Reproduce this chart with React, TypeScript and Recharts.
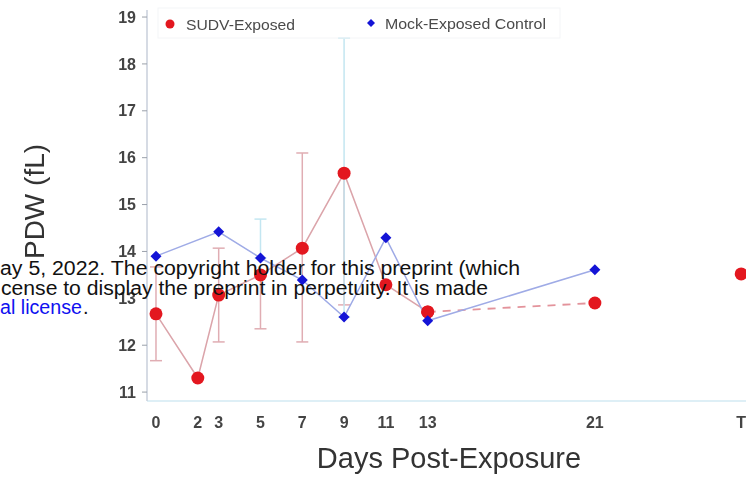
import { LineChart, Line, XAxis, YAxis, ErrorBar } from "recharts";

// sampling days; the terminal sample ("T") sits at day 28 on the axis
const days = [0, 2, 3, 5, 7, 9, 11, 13, 21, 28];
const dayLabels = ["0", "2", "3", "5", "7", "9", "11", "13", "21", "T"];
const yTicks = [11, 12, 13, 14, 15, 16, 17, 18, 19];

// PDW (fL), group means
const sudvMean = [12.67, 11.3, 13.07, 13.5, 14.07, 15.67, 13.29, 12.71, 12.9, 13.52];
const mockMean = [13.9, null, 14.42, 13.86, 13.39, 12.6, 14.29, 12.52, 13.61, null];

// [below, above] error deltas
const sudvErr = [[1.0, 1.0], null, [1.0, 1.0], [1.15, 0], [2.0, 2.03], [2.81, 0], null, null, null, null];
const mockErr = [null, null, null, [0, 0.83], null, [0, 5.95], null, null, null, null];

const FONT = "'Liberation Sans', Arial, Helvetica, sans-serif";
const RED = "#e3171f";
const BLUE = "#1414d6";

const data = days.map((day, i) => ({
  day,
  sudv: day <= 13 ? sudvMean[i] : null,
  sudvLate: day >= 13 && day <= 21 ? sudvMean[i] : null,
  sudvEnd: day > 21 ? sudvMean[i] : null,
  sudvErr: sudvErr[i],
  mock: mockMean[i],
  mockErr: mockErr[i],
}));

const redDot = (props: any) => {
  const { cx, cy, index, dataKey } = props;
  if (cx == null || cy == null || props.value == null) return <g key={`${dataKey}-${index}`} />;
  return <circle key={`${dataKey}-${index}`} cx={cx} cy={cy} r={6.5} fill={RED} />;
};

const blueDot = (props: any) => {
  const { cx, cy, index } = props;
  if (cx == null || cy == null || props.value == null) return <g key={`mock-${index}`} />;
  const s = 5.5;
  return (
    <polygon
      key={`mock-${index}`}
      points={`${cx},${cy - s} ${cx + s},${cy} ${cx},${cy + s} ${cx - s},${cy}`}
      fill={BLUE}
    />
  );
};

const tickStyle = { fontSize: 16, fill: "#444", fontWeight: "bold", fontFamily: FONT };

export default function App() {
  return (
    <div
      style={{
        position: "absolute",
        left: 0,
        top: 0,
        width: 746,
        height: 493,
        overflow: "hidden",
        background: "#fff",
      }}
    >
      <div style={{ position: "absolute", left: 0, top: 0, filter: "blur(0.5px)" }}>
        <LineChart
          width={751}
          height={493}
          data={data}
          margin={{ top: 10, right: 0, bottom: 0, left: 0 }}
        >
          <XAxis
            type="number"
            dataKey="day"
            domain={[-0.43, 28.47]}
            ticks={days}
            allowDataOverflow
            tickFormatter={(v: number) => dayLabels[days.indexOf(v)] ?? String(v)}
            height={92}
            axisLine={{ stroke: "#d3eaf3", strokeWidth: 1.5 }}
            tickLine={false}
            tickMargin={10}
            tick={tickStyle}
            label={{
              value: "Days Post-Exposure",
              position: "insideBottom",
              offset: 25,
              fontSize: 29,
              fill: "#333",
              fontFamily: FONT,
            }}
          />
          <YAxis
            type="number"
            domain={[10.81, 19.15]}
            ticks={yTicks}
            allowDataOverflow
            width={147}
            axisLine={{ stroke: "#c8cfdb", strokeWidth: 1.5 }}
            tickLine={{ stroke: "#9aa0aa" }}
            tickSize={5}
            tickMargin={6}
            tick={tickStyle}
            label={{
              value: "PDW (fL)",
              angle: -90,
              position: "insideLeft",
              offset: 34,
              dy: -4,
              fontSize: 28,
              fill: "#333",
              fontFamily: FONT,
              style: { textAnchor: "middle" },
            }}
          />
          <Line
            dataKey="sudv"
            stroke="#dba4aa"
            strokeWidth={1.5}
            dot={redDot}
            activeDot={false}
            isAnimationActive={false}
          >
            <ErrorBar dataKey="sudvErr" direction="y" width={6} stroke="#e0adb3" strokeWidth={1.5} />
          </Line>
          <Line
            dataKey="sudvLate"
            stroke="#e3939b"
            strokeWidth={1.8}
            strokeDasharray="8 7"
            dot={redDot}
            activeDot={false}
            isAnimationActive={false}
          />
          <Line
            dataKey="sudvEnd"
            stroke="none"
            dot={redDot}
            activeDot={false}
            isAnimationActive={false}
          />
          <Line
            dataKey="mock"
            stroke="#9fabe6"
            strokeWidth={1.5}
            connectNulls
            dot={blueDot}
            activeDot={false}
            isAnimationActive={false}
          >
            <ErrorBar dataKey="mockErr" direction="y" width={6} stroke="#c3e6f1" strokeWidth={1.5} />
          </Line>
        </LineChart>

        {/* legend */}
        <svg
          width={746}
          height={50}
          style={{ position: "absolute", left: 0, top: 0, pointerEvents: "none" }}
        >
          <rect x={158} y={8} width={402} height={30} fill="none" stroke="#f4f5f7" />
          <circle cx={170} cy={24} r={4.5} fill={RED} />
          <text x={186} y={30} fontSize={15} fill="#4a4a4a" fontFamily={FONT} textLength={109} lengthAdjust="spacingAndGlyphs">
            SUDV-Exposed
          </text>
          <polygon points="371,19 375,23 371,27 367,23" fill={BLUE} />
          <text x={385} y={29} fontSize={15} fill="#4a4a4a" fontFamily={FONT} textLength={161} lengthAdjust="spacingAndGlyphs">
            Mock-Exposed Control
          </text>
        </svg>
      </div>

      {/* preprint notice printed across the figure */}
      <svg
        width={746}
        height={493}
        style={{ position: "absolute", left: 0, top: 0, pointerEvents: "none" }}
      >
        <text x={0} y={275} fontSize={20} fill="#111" fontFamily={FONT} textLength={520} lengthAdjust="spacingAndGlyphs">
          ay 5, 2022. The copyright holder for this preprint (which
        </text>
        <text x={1} y={295} fontSize={20} fill="#111" fontFamily={FONT} textLength={487} lengthAdjust="spacingAndGlyphs">
          cense to display the preprint in perpetuity. It is made
        </text>
        <text x={0} y={314} fontSize={20} fill="#1010f0" fontFamily={FONT} textLength={82} lengthAdjust="spacingAndGlyphs">
          al license
        </text>
        <text x={83} y={314} fontSize={20} fill="#111" fontFamily={FONT}>
          .
        </text>
      </svg>
    </div>
  );
}
